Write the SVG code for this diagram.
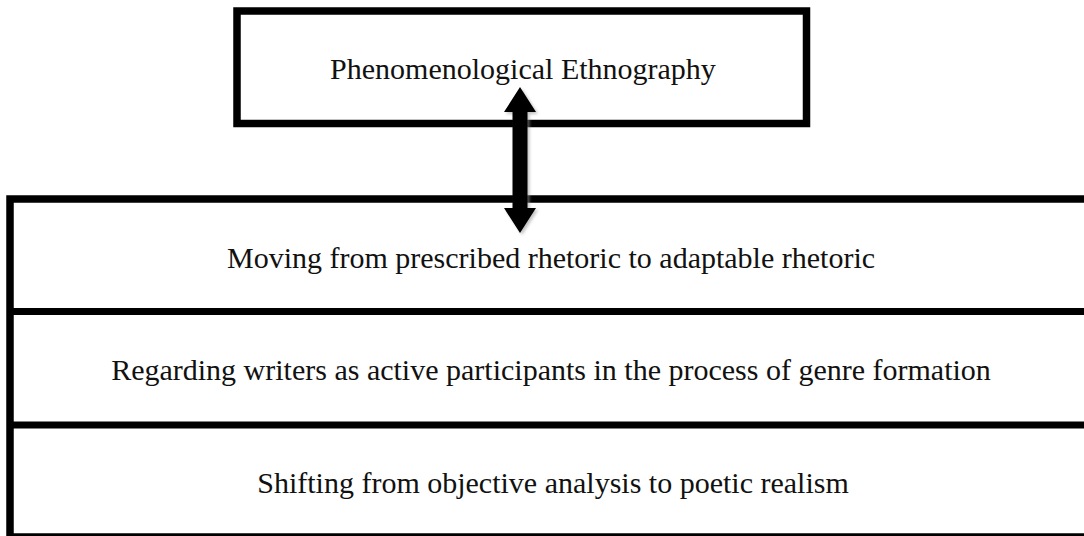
<svg xmlns="http://www.w3.org/2000/svg" width="1084" height="536" viewBox="0 0 1084 536">
  <style>
    .box { fill: #ffffff; stroke: #000000; stroke-width: 7.5; }
    .rule { stroke: #000000; stroke-width: 7; }
    .lbl { font-family: "Liberation Serif", "Times New Roman", serif; font-size: 30px; fill: #111111; text-anchor: middle; }
  </style>
  <defs>
    <filter id="shadow" x="-50%" y="-10%" width="200%" height="120%">
      <feGaussianBlur stdDeviation="1.5"/>
    </filter>
  </defs>
  <rect width="1084" height="536" fill="#ffffff"/>
  <g id="node-top">
    <rect class="box" x="237" y="11" width="569.5" height="112.5"/>
    <text class="lbl" x="523" y="79">Phenomenological Ethnography</text>
  </g>
  <g id="node-table">
    <rect class="box" x="10" y="199" width="1090" height="338"/>
  </g>
  <g id="node-row1">
    <text class="lbl" x="551" y="268">Moving from prescribed rhetoric to adaptable rhetoric</text>
  </g>
  <g id="node-row2">
    <line class="rule" x1="10" y1="311.5" x2="1090" y2="311.5"/>
    <text class="lbl" x="551" y="380">Regarding writers as active participants in the process of genre formation</text>
  </g>
  <g id="node-row3">
    <line class="rule" x1="10" y1="425" x2="1090" y2="425"/>
    <text class="lbl" x="553" y="493">Shifting from objective analysis to poetic realism</text>
  </g>
  <g id="connectors">
    <polygon points="522,89 538,114 529.5,114 529.5,210 538,210 522,235 506,210 514.5,210 514.5,114 506,114" fill="#999999" opacity="0.6" filter="url(#shadow)"/>
    <polygon points="520,87 536,112 527.5,112 527.5,208 536,208 520,233 504,208 512.5,208 512.5,112 504,112" fill="#000000"/>
  </g>
</svg>
